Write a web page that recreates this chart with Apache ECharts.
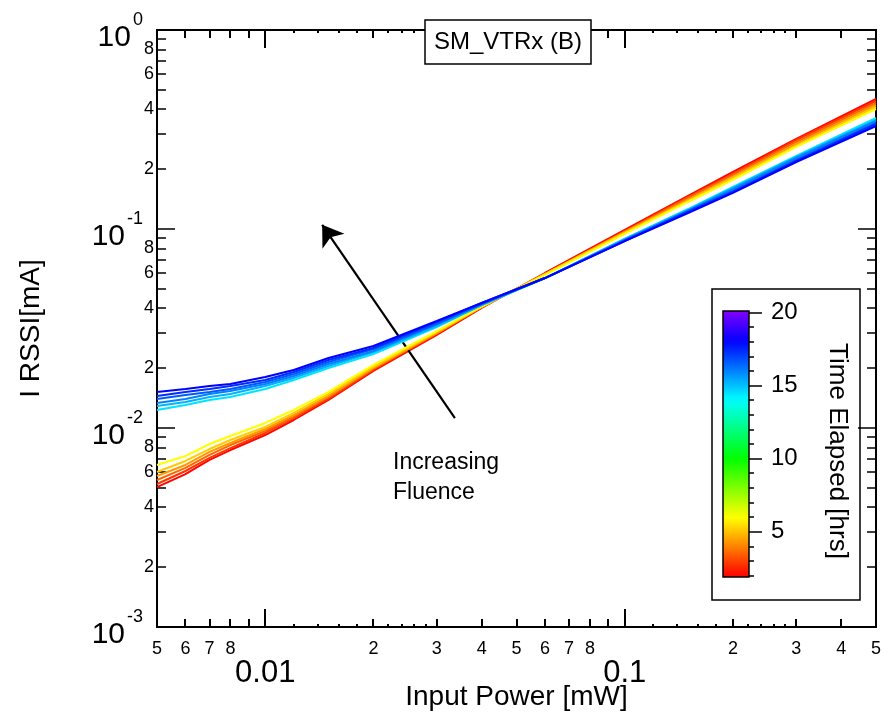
<!DOCTYPE html>
<html><head><meta charset="utf-8">
<script src="https://cdn.jsdelivr.net/npm/echarts@6/dist/echarts.min.js"></script>
<style>html,body{margin:0;padding:0;background:#fff}#c{width:884px;height:715px}</style>
</head><body><div id="c"></div>
<script>
// ---------------- data ----------------
const powerMW = [0.005,0.006,0.007,0.008,0.01,0.012,0.015,0.02,0.03,0.04,0.06,0.1,0.15,0.2,0.3,0.5];
const timesHrs = [2.1, 2.8, 3.6, 4.4, 5.2, 6.0, 14.4, 15.2, 16.0, 16.6, 17.3, 18.0];

const rssi_t02_1 = [0.00505,0.00587,0.00691,0.00775,0.00922,0.01097,0.01383,0.01935,0.02934,0.0401,0.0601,0.0989,0.1466,0.1935,0.2834,0.4501];
const rssi_t02_8 = [0.00523,0.00608,0.00707,0.00793,0.00944,0.01123,0.01399,0.01957,0.02968,0.0406,0.0594,0.0977,0.1449,0.1891,0.2801,0.4398];
const rssi_t03_6 = [0.00548,0.00630,0.00732,0.00821,0.00966,0.01136,0.01432,0.0198,0.0300,0.0406,0.0594,0.0966,0.1432,0.1869,0.2737,0.4297];
const rssi_t04_4 = [0.00574,0.00652,0.00758,0.00841,0.00989,0.01162,0.01449,0.02003,0.0300,0.0406,0.0594,0.0966,0.1399,0.1826,0.2675,0.4199];
const rssi_t05_2 = [0.00601,0.00683,0.00784,0.00870,0.01012,0.0119,0.01483,0.02026,0.03037,0.04056,0.0594,0.0955,0.1383,0.1805,0.2614,0.4103];
const rssi_t06_0 = [0.00652,0.00723,0.00831,0.00911,0.0106,0.01232,0.01518,0.02074,0.0307,0.0410,0.0587,0.0944,0.1367,0.1764,0.2584,0.401];
const rssi_t14_4 = [0.01232,0.01306,0.01383,0.01432,0.0157,0.01744,0.02003,0.02355,0.03217,0.04151,0.0567,0.0891,0.1260,0.1627,0.2328,0.3612];
const rssi_t15_2 = [0.01291,0.01352,0.01432,0.01483,0.01627,0.01785,0.0205,0.0241,0.03256,0.04151,0.0567,0.0891,0.1246,0.1607,0.2301,0.3530];
const rssi_t16_0 = [0.01336,0.01399,0.01483,0.01534,0.01665,0.01826,0.02098,0.02438,0.03332,0.04199,0.0567,0.0880,0.1232,0.1588,0.2274,0.3489];
const rssi_t16_6 = [0.01399,0.01466,0.01518,0.0157,0.01704,0.01869,0.02147,0.02495,0.03332,0.04199,0.0567,0.0880,0.1232,0.1552,0.2222,0.3410];
const rssi_t17_3 = [0.01449,0.01518,0.0157,0.01627,0.01744,0.01913,0.02196,0.02524,0.0341,0.04248,0.0567,0.0870,0.1218,0.1534,0.2196,0.3371];
const rssi_t18_0 = [0.01518,0.0157,0.01627,0.01665,0.01805,0.01957,0.02248,0.02584,0.0345,0.04248,0.0567,0.0870,0.1203,0.1518,0.2171,0.3294];
const rssiSeries = [rssi_t02_1, rssi_t02_8, rssi_t03_6, rssi_t04_4, rssi_t05_2, rssi_t06_0,
                    rssi_t14_4, rssi_t15_2, rssi_t16_0, rssi_t16_6, rssi_t17_3, rssi_t18_0];

// axes ranges and ticks
const xRange = [0.005, 0.5];
const yRange = [0.001, 1];
const xMajorTicks = [0.01, 0.1];
const xMinorTicks = [0.006,0.007,0.008,0.009,0.02,0.03,0.04,0.05,0.06,0.07,0.08,0.09,0.2,0.3,0.4];
const xMinorLabels = [0.005,0.006,0.007,0.008,0.02,0.03,0.04,0.05,0.06,0.07,0.08,0.2,0.3,0.4,0.5];
const xDotTicks = [0.012,0.014,0.016,0.018,0.022,0.024,0.026,0.028,0.12,0.14,0.16,0.18,0.22,0.24,0.26,0.28];
const yMajorTicks = [0.001, 0.01, 0.1, 1];
const yMinorTicks = [0.002,0.003,0.004,0.005,0.006,0.007,0.008,0.009,0.02,0.03,0.04,0.05,0.06,0.07,0.08,0.09,0.2,0.3,0.4,0.5,0.6,0.7,0.8,0.9];
const yMinorLabels = [0.002,0.004,0.006,0.008,0.02,0.04,0.06,0.08,0.2,0.4,0.6,0.8];

// colour bar
const cbRange = [1.9, 20.1];
const cbMajorTicks = [5, 10, 15, 20];
const cbMinorTicks = [2,3,4,6,7,8,9,11,12,13,14,16,17,18,19];

// annotation arrow (data coords)
const arrowStart = [0.0337, 0.0112];
const arrowEnd = [0.0144, 0.105];

// ---------------- helpers ----------------
const FONT = '"Liberation Sans", Arial, sans-serif';
const L = v => Math.log10(v);
function hueColor(t) {
  let h = (t - 2) / 18 * 270;
  h = Math.max(0, Math.min(272, h));
  const x = 1 - Math.abs((h / 60) % 2 - 1);
  let r, g, b;
  if (h < 60) { r = 1; g = x; b = 0; }
  else if (h < 120) { r = x; g = 1; b = 0; }
  else if (h < 180) { r = 0; g = 1; b = x; }
  else if (h < 240) { r = 0; g = x; b = 1; }
  else { r = x; g = 0; b = 1; }
  return 'rgb(' + Math.round(r * 255) + ',' + Math.round(g * 255) + ',' + Math.round(b * 255) + ')';
}
function leadDigit(lv) {
  const e = Math.floor(lv + 1e-9);
  return String(Math.round(Math.pow(10, lv - e)));
}
const tickStyle = { color: '#000', width: 1.5 };

function overlay(kind, pos, ticks, len, labels, labelOpts) {
  const isX = kind === 'x';
  const ax = {
    type: 'value', gridIndex: 0, position: pos, offset: 0,
    min: isX ? L(xRange[0]) : L(yRange[0]),
    max: isX ? L(xRange[1]) : L(yRange[1]),
    axisLine: { show: false, onZero: false }, splitLine: { show: false },
    axisTick: ticks ? { show: true, inside: true, length: len, customValues: ticks.map(L), lineStyle: tickStyle } : { show: false },
    axisLabel: { show: false }
  };
  if (labels) {
    ax.axisLabel = Object.assign({
      show: true, customValues: labels.map(L), showMinLabel: true, showMaxLabel: true,
      color: '#000', fontFamily: FONT
    }, labelOpts);
  }
  return ax;
}

// ---------------- option ----------------
const xAxes = [
  { type: 'log', logBase: 10, gridIndex: 0, position: 'bottom', min: xRange[0], max: xRange[1],
    axisLine: { show: false, onZero: false }, axisTick: { show: false }, axisLabel: { show: false }, splitLine: { show: false },
    name: 'Input Power [mW]', nameLocation: 'middle', nameGap: 56,
    nameTextStyle: { fontSize: 28, color: '#000', fontFamily: FONT } },
  overlay('x', 'bottom', null, 0, xMajorTicks, { fontSize: 31, margin: 31, formatter: v => String(+Math.pow(10, v).toPrecision(1)) }),
  overlay('x', 'bottom', null, 0, xMinorLabels, { fontSize: 18, margin: 13, formatter: v => leadDigit(v) }),
  { type: 'value', gridIndex: 1, min: 0, max: 1, show: false, axisLine: { onZero: false } }
];
const yAxes = [
  { type: 'log', logBase: 10, gridIndex: 0, position: 'left', min: yRange[0], max: yRange[1],
    axisLine: { show: false, onZero: false }, axisTick: { show: false }, axisLabel: { show: false }, splitLine: { show: false },
    name: 'I RSSI[mA]', nameLocation: 'middle', nameGap: 112,
    nameTextStyle: { fontSize: 28, color: '#000', fontFamily: FONT } },
  overlay('y', 'left', yMajorTicks, 18, yMajorTicks, {
    margin: 14, padding: [16, 0, 0, 0],
    formatter: v => '{b|10}{s|' + Math.round(v) + '}',
    rich: {
      b: { fontSize: 30, lineHeight: 30, fontFamily: FONT, color: '#000', verticalAlign: 'bottom' },
      s: { fontSize: 18, lineHeight: 18, fontFamily: FONT, color: '#000', verticalAlign: 'bottom', padding: [0, 0, 24, 2] }
    }
  }),
  overlay('y', 'left', yMinorTicks, 9, yMinorLabels, { fontSize: 18, margin: 3, formatter: v => leadDigit(v) }),
  overlay('y', 'right', yMajorTicks, 18, null),
  overlay('y', 'right', yMinorTicks, 9, null),
  { type: 'value', gridIndex: 1, position: 'right', offset: 0, min: cbRange[0], max: cbRange[1], z: 6,
    axisLine: { show: false, onZero: false }, splitLine: { show: false },
    axisTick: { show: true, inside: false, length: 13, customValues: cbMajorTicks, lineStyle: tickStyle },
    axisLabel: { show: true, customValues: cbMajorTicks, margin: 22, fontSize: 24, color: '#000', fontFamily: FONT, showMinLabel: true, showMaxLabel: true } },
  { type: 'value', gridIndex: 1, position: 'right', offset: 0, min: cbRange[0], max: cbRange[1], z: 6,
    axisLine: { show: false, onZero: false }, splitLine: { show: false },
    axisTick: { show: true, inside: false, length: 5, customValues: cbMinorTicks, lineStyle: tickStyle },
    axisLabel: { show: false } }
];

const series = rssiSeries.map((vals, i) => ({
  type: 'line', name: 't=' + timesHrs[i], xAxisIndex: 0, yAxisIndex: 0,
  data: vals.map((v, j) => [powerMW[j], v]),
  showSymbol: false, symbol: 'none', smooth: false, silent: true,
  lineStyle: { color: hueColor(timesHrs[i]), width: 2 },
  z: 3 + i
}));
series.push({
  type: 'line', xAxisIndex: 0, yAxisIndex: 0, data: [], silent: true, z: 30,
  markLine: {
    silent: true, symbol: ['none', 'arrow'], symbolSize: 20, label: { show: false },
    lineStyle: { color: '#000', width: 2.2, type: 'solid' }, emphasis: { disabled: true },
    itemStyle: { color: '#000' },
    data: [[{ coord: arrowStart }, { coord: arrowEnd }]]
  }
});
const cbStops = [];
for (let k = 0; k <= 40; k++) {
  const t = cbRange[0] + (cbRange[1] - cbRange[0]) * k / 40;
  cbStops.push({ offset: k / 40, color: hueColor(t) });
}
series.push({
  type: 'custom', xAxisIndex: 3, yAxisIndex: 5, silent: true, z: 5,
  data: [[0, cbRange[0]]],
  renderItem: function (params, api) {
    const p0 = api.coord([0, cbRange[0]]);
    const p1 = api.coord([1, cbRange[1]]);
    return { type: 'rect',
      shape: { x: p0[0], y: p1[1], width: p1[0] - p0[0], height: p0[1] - p1[1] },
      style: { fill: new echarts.graphic.LinearGradient(0, 1, 0, 0, cbStops), stroke: '#000', lineWidth: 1.5 } };
  }
});

const baseGraphic = [
  { type: 'rect', z: -1, shape: { x: 712, y: 289, width: 148, height: 311 },
    style: { fill: '#fff', stroke: '#000', lineWidth: 1.5 } },
  { type: 'text', z: 10, x: 837, y: 451, rotation: -Math.PI / 2,
    style: { text: 'Time Elapsed [hrs]', font: '26px ' + FONT, fill: '#000', align: 'center', verticalAlign: 'middle', textAlign: 'center', textVerticalAlign: 'middle' } },
  { type: 'rect', z: 100, shape: { x: 425, y: 20, width: 166, height: 44 },
    style: { fill: '#fff', stroke: '#000', lineWidth: 1.5 } },
  { type: 'text', z: 101, x: 508, y: 42,
    style: { text: 'SM_VTRx (B)', font: '24px ' + FONT, fill: '#000', align: 'center', verticalAlign: 'middle', textAlign: 'center', textVerticalAlign: 'middle' } },
  { type: 'text', z: 101, x: 393, y: 448,
    style: { text: 'Increasing\nFluence', font: '23px ' + FONT, lineHeight: 30, fill: '#000', align: 'left', verticalAlign: 'top', textAlign: 'left', textVerticalAlign: 'top' } }
];

const option = {
  backgroundColor: '#fff',
  animation: false,
  grid: [
    { left: 157, right: 8, top: 30, bottom: 88, show: true, borderColor: '#000', borderWidth: 2,
      backgroundColor: 'transparent', containLabel: false, outerBoundsMode: 'none' },
    { left: 723, top: 311, width: 26, height: 266, show: false, containLabel: false, outerBoundsMode: 'none' }
  ],
  xAxis: xAxes,
  yAxis: yAxes,
  series: series,
  graphic: baseGraphic
};
const chart = echarts.init(document.getElementById('c'), null, { renderer: 'canvas' });
chart.setOption(option);

// x-axis ticks (bottom and mirrored top), positioned through the log x axis scale
const tickEls = [];
function addXTicks(values, len) {
  values.forEach(v => {
    const pb = chart.convertToPixel({ xAxisIndex: 0, yAxisIndex: 0 }, [v, yRange[0]]);
    const pt = chart.convertToPixel({ xAxisIndex: 0, yAxisIndex: 0 }, [v, yRange[1]]);
    if (!pb || !pt) return;
    const x = Math.round(pb[0]) - 1;
    tickEls.push({ type: 'rect', z: 50, silent: true, shape: { x: x, y: pb[1] - len, width: 2, height: len }, style: { fill: '#000' } });
    tickEls.push({ type: 'rect', z: 50, silent: true, shape: { x: x, y: pt[1], width: 2, height: len }, style: { fill: '#000' } });
  });
}
addXTicks(xMajorTicks, 18);
addXTicks(xMinorTicks, 8);
addXTicks(xDotTicks, 3);
chart.setOption({ graphic: baseGraphic.concat(tickEls) });
</script>
</body></html>
